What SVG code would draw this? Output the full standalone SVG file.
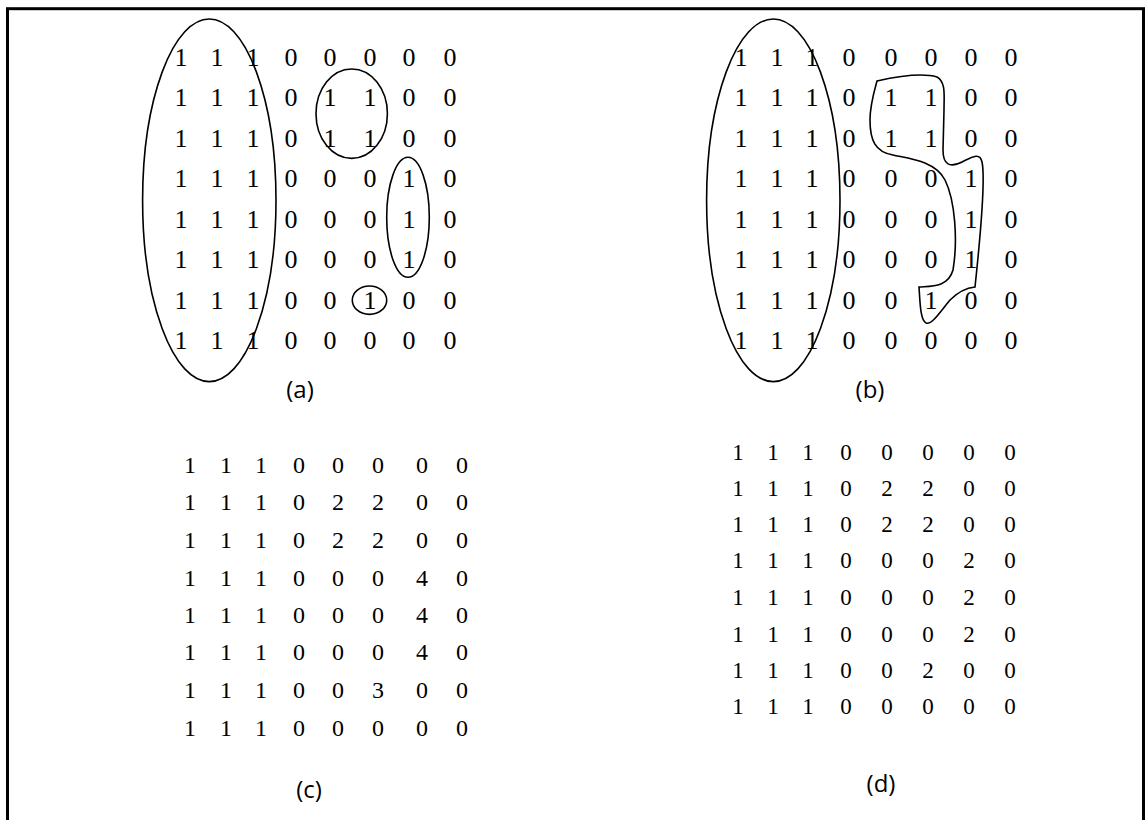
<svg xmlns="http://www.w3.org/2000/svg" width="1146" height="820" viewBox="0 0 1146 820">
<style>
.d{font-family:"Liberation Serif","Times New Roman",serif;fill:#000;text-anchor:middle}
.ab{font-size:26px}
.c{font-size:24px}
.dd{font-size:23px}
.lbl{font-family:"Open Sans","Liberation Sans",sans-serif;font-size:24px;text-anchor:middle;fill:#000}
.sh{fill:none;stroke:#000;stroke-width:1.6}
</style>
<rect x="7.5" y="8.7" width="1136" height="840" fill="#fff" stroke="#000" stroke-width="3"/>
<g id="panel-a">
<g class="d ab">
<text y="66"><tspan x="181">1</tspan><tspan x="217">1</tspan><tspan x="253">1</tspan><tspan x="291">0</tspan><tspan x="330">0</tspan><tspan x="370">0</tspan><tspan x="409">0</tspan><tspan x="450">0</tspan></text>
<text y="106"><tspan x="181">1</tspan><tspan x="217">1</tspan><tspan x="253">1</tspan><tspan x="291">0</tspan><tspan x="330">1</tspan><tspan x="370">1</tspan><tspan x="409">0</tspan><tspan x="450">0</tspan></text>
<text y="147"><tspan x="181">1</tspan><tspan x="217">1</tspan><tspan x="253">1</tspan><tspan x="291">0</tspan><tspan x="330">1</tspan><tspan x="370">1</tspan><tspan x="409">0</tspan><tspan x="450">0</tspan></text>
<text y="187"><tspan x="181">1</tspan><tspan x="217">1</tspan><tspan x="253">1</tspan><tspan x="291">0</tspan><tspan x="330">0</tspan><tspan x="370">0</tspan><tspan x="409">1</tspan><tspan x="450">0</tspan></text>
<text y="228"><tspan x="181">1</tspan><tspan x="217">1</tspan><tspan x="253">1</tspan><tspan x="291">0</tspan><tspan x="330">0</tspan><tspan x="370">0</tspan><tspan x="409">1</tspan><tspan x="450">0</tspan></text>
<text y="268"><tspan x="181">1</tspan><tspan x="217">1</tspan><tspan x="253">1</tspan><tspan x="291">0</tspan><tspan x="330">0</tspan><tspan x="370">0</tspan><tspan x="409">1</tspan><tspan x="450">0</tspan></text>
<text y="309"><tspan x="181">1</tspan><tspan x="217">1</tspan><tspan x="253">1</tspan><tspan x="291">0</tspan><tspan x="330">0</tspan><tspan x="370">1</tspan><tspan x="409">0</tspan><tspan x="450">0</tspan></text>
<text y="349"><tspan x="181">1</tspan><tspan x="217">1</tspan><tspan x="253">1</tspan><tspan x="291">0</tspan><tspan x="330">0</tspan><tspan x="370">0</tspan><tspan x="409">0</tspan><tspan x="450">0</tspan></text>
</g>
<ellipse class="sh" cx="209.3" cy="200.3" rx="66.7" ry="181.3"/>
<ellipse class="sh" cx="351.7" cy="113.7" rx="35.7" ry="44.7"/>
<ellipse class="sh" cx="408" cy="217.3" rx="21.3" ry="60"/>
<ellipse class="sh" cx="369.5" cy="300.2" rx="17.2" ry="14.2"/>
<text class="lbl" x="300" y="398">(a)</text>
</g>
<g id="panel-b">
<g class="d ab">
<text y="66"><tspan x="741">1</tspan><tspan x="777">1</tspan><tspan x="812">1</tspan><tspan x="849">0</tspan><tspan x="891">0</tspan><tspan x="931">0</tspan><tspan x="971">0</tspan><tspan x="1011">0</tspan></text>
<text y="106"><tspan x="741">1</tspan><tspan x="777">1</tspan><tspan x="812">1</tspan><tspan x="849">0</tspan><tspan x="891">1</tspan><tspan x="931">1</tspan><tspan x="971">0</tspan><tspan x="1011">0</tspan></text>
<text y="147"><tspan x="741">1</tspan><tspan x="777">1</tspan><tspan x="812">1</tspan><tspan x="849">0</tspan><tspan x="891">1</tspan><tspan x="931">1</tspan><tspan x="971">0</tspan><tspan x="1011">0</tspan></text>
<text y="187"><tspan x="741">1</tspan><tspan x="777">1</tspan><tspan x="812">1</tspan><tspan x="849">0</tspan><tspan x="891">0</tspan><tspan x="931">0</tspan><tspan x="971">1</tspan><tspan x="1011">0</tspan></text>
<text y="228"><tspan x="741">1</tspan><tspan x="777">1</tspan><tspan x="812">1</tspan><tspan x="849">0</tspan><tspan x="891">0</tspan><tspan x="931">0</tspan><tspan x="971">1</tspan><tspan x="1011">0</tspan></text>
<text y="268"><tspan x="741">1</tspan><tspan x="777">1</tspan><tspan x="812">1</tspan><tspan x="849">0</tspan><tspan x="891">0</tspan><tspan x="931">0</tspan><tspan x="971">1</tspan><tspan x="1011">0</tspan></text>
<text y="309"><tspan x="741">1</tspan><tspan x="777">1</tspan><tspan x="812">1</tspan><tspan x="849">0</tspan><tspan x="891">0</tspan><tspan x="931">1</tspan><tspan x="971">0</tspan><tspan x="1011">0</tspan></text>
<text y="349"><tspan x="741">1</tspan><tspan x="777">1</tspan><tspan x="812">1</tspan><tspan x="849">0</tspan><tspan x="891">0</tspan><tspan x="931">0</tspan><tspan x="971">0</tspan><tspan x="1011">0</tspan></text>
</g>
<ellipse class="sh" cx="773.3" cy="200.3" rx="66.7" ry="181.3"/>
<path class="sh" d="M877,81 C895,77 920,72 937,77 C946,82 944,95 944,110 L943,150 C943,165 950,168 962,162 C972,157 980,152 982,162 C986,180 980,240 975,287 C965,288 958,292 950,300 C940,312 932,325 926,323 C920,320 920,300 919,287 C930,286 948,288 953,270 C958,240 955,200 945,180 C935,160 905,158 893,155 C875,152 870,140 870,120 C870,105 874,92 877,81 Z"/>
<text class="lbl" x="870" y="398">(b)</text>
</g>
<g id="panel-c">
<g class="d c">
<text y="473"><tspan x="190">1</tspan><tspan x="226">1</tspan><tspan x="261">1</tspan><tspan x="299">0</tspan><tspan x="338">0</tspan><tspan x="378">0</tspan><tspan x="422">0</tspan><tspan x="462">0</tspan></text>
<text y="510"><tspan x="190">1</tspan><tspan x="226">1</tspan><tspan x="261">1</tspan><tspan x="299">0</tspan><tspan x="338">2</tspan><tspan x="378">2</tspan><tspan x="422">0</tspan><tspan x="462">0</tspan></text>
<text y="548"><tspan x="190">1</tspan><tspan x="226">1</tspan><tspan x="261">1</tspan><tspan x="299">0</tspan><tspan x="338">2</tspan><tspan x="378">2</tspan><tspan x="422">0</tspan><tspan x="462">0</tspan></text>
<text y="586"><tspan x="190">1</tspan><tspan x="226">1</tspan><tspan x="261">1</tspan><tspan x="299">0</tspan><tspan x="338">0</tspan><tspan x="378">0</tspan><tspan x="422">4</tspan><tspan x="462">0</tspan></text>
<text y="623"><tspan x="190">1</tspan><tspan x="226">1</tspan><tspan x="261">1</tspan><tspan x="299">0</tspan><tspan x="338">0</tspan><tspan x="378">0</tspan><tspan x="422">4</tspan><tspan x="462">0</tspan></text>
<text y="660"><tspan x="190">1</tspan><tspan x="226">1</tspan><tspan x="261">1</tspan><tspan x="299">0</tspan><tspan x="338">0</tspan><tspan x="378">0</tspan><tspan x="422">4</tspan><tspan x="462">0</tspan></text>
<text y="698"><tspan x="190">1</tspan><tspan x="226">1</tspan><tspan x="261">1</tspan><tspan x="299">0</tspan><tspan x="338">0</tspan><tspan x="378">3</tspan><tspan x="422">0</tspan><tspan x="462">0</tspan></text>
<text y="736"><tspan x="190">1</tspan><tspan x="226">1</tspan><tspan x="261">1</tspan><tspan x="299">0</tspan><tspan x="338">0</tspan><tspan x="378">0</tspan><tspan x="422">0</tspan><tspan x="462">0</tspan></text>
</g>
<text class="lbl" x="309" y="798">(c)</text>
</g>
<g id="panel-d">
<g class="d dd">
<text y="460"><tspan x="738">1</tspan><tspan x="773">1</tspan><tspan x="808">1</tspan><tspan x="846">0</tspan><tspan x="887">0</tspan><tspan x="928">0</tspan><tspan x="969">0</tspan><tspan x="1010">0</tspan></text>
<text y="496"><tspan x="738">1</tspan><tspan x="773">1</tspan><tspan x="808">1</tspan><tspan x="846">0</tspan><tspan x="887">2</tspan><tspan x="928">2</tspan><tspan x="969">0</tspan><tspan x="1010">0</tspan></text>
<text y="532"><tspan x="738">1</tspan><tspan x="773">1</tspan><tspan x="808">1</tspan><tspan x="846">0</tspan><tspan x="887">2</tspan><tspan x="928">2</tspan><tspan x="969">0</tspan><tspan x="1010">0</tspan></text>
<text y="568"><tspan x="738">1</tspan><tspan x="773">1</tspan><tspan x="808">1</tspan><tspan x="846">0</tspan><tspan x="887">0</tspan><tspan x="928">0</tspan><tspan x="969">2</tspan><tspan x="1010">0</tspan></text>
<text y="605"><tspan x="738">1</tspan><tspan x="773">1</tspan><tspan x="808">1</tspan><tspan x="846">0</tspan><tspan x="887">0</tspan><tspan x="928">0</tspan><tspan x="969">2</tspan><tspan x="1010">0</tspan></text>
<text y="642"><tspan x="738">1</tspan><tspan x="773">1</tspan><tspan x="808">1</tspan><tspan x="846">0</tspan><tspan x="887">0</tspan><tspan x="928">0</tspan><tspan x="969">2</tspan><tspan x="1010">0</tspan></text>
<text y="678"><tspan x="738">1</tspan><tspan x="773">1</tspan><tspan x="808">1</tspan><tspan x="846">0</tspan><tspan x="887">0</tspan><tspan x="928">2</tspan><tspan x="969">0</tspan><tspan x="1010">0</tspan></text>
<text y="714"><tspan x="738">1</tspan><tspan x="773">1</tspan><tspan x="808">1</tspan><tspan x="846">0</tspan><tspan x="887">0</tspan><tspan x="928">0</tspan><tspan x="969">0</tspan><tspan x="1010">0</tspan></text>
</g>
<text class="lbl" x="881" y="792">(d)</text>
</g>
</svg>
